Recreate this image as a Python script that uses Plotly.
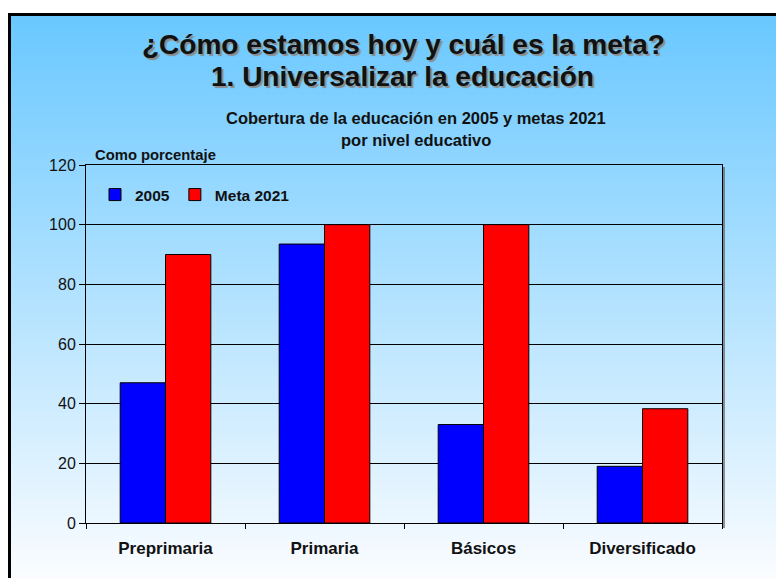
import plotly.graph_objects as go

categories = ["Preprimaria", "Primaria", "Básicos", "Diversificado"]
series_names = ["2005", "Meta 2021"]
values_2005 = [47, 93.5, 33, 19]
values_meta = [90, 100, 100, 38.3]
y_ticks = [0, 20, 40, 60, 80, 100, 120]

W, H = 776, 578
L, R, T, B = 86, 722, 165, 523  # plot area in px

def px_x(px):
    return (px - L) / (R - L)

def px_y(py):
    return (B - py) / (B - T)

FONT = "Liberation Sans, Arial"

fig = go.Figure()
fig.add_trace(go.Bar(name=series_names[0], x=categories, y=values_2005,
                     marker=dict(color="#0000ff", line=dict(color="black", width=1))))
fig.add_trace(go.Bar(name=series_names[1], x=categories, y=values_meta,
                     marker=dict(color="#ff0000", line=dict(color="black", width=1))))

shapes = []
# gradient background
top_px, bot_px = 15, H
n = 120
c0 = (106, 200, 255)
c1 = (250, 252, 255)
for i in range(n):
    f = i / (n - 1)
    c = tuple(round(c0[k] + (c1[k] - c0[k]) * f) for k in range(3))
    y0 = top_px + (bot_px - top_px) * i / n
    y1 = top_px + (bot_px - top_px) * (i + 1) / n + 0.8
    shapes.append(dict(type="rect", xref="paper", yref="paper", layer="below",
                       x0=px_x(10), x1=px_x(W + 2), y0=px_y(y1), y1=px_y(y0),
                       fillcolor="rgb(%d,%d,%d)" % c, line=dict(width=0)))
# frame border
shapes.append(dict(type="line", xref="paper", yref="paper", layer="above",
                   x0=px_x(9.5), x1=px_x(9.5), y0=px_y(H + 2), y1=px_y(13),
                   line=dict(color="black", width=3)))
shapes.append(dict(type="line", xref="paper", yref="paper", layer="above",
                   x0=px_x(8), x1=px_x(W + 2), y0=px_y(14.5), y1=px_y(14.5),
                   line=dict(color="black", width=3)))
# right border shadow of plot area
shapes.append(dict(type="line", xref="paper", yref="paper", layer="below",
                   x0=px_x(724), x1=px_x(724), y0=px_y(B + 5), y1=px_y(T + 2),
                   line=dict(color="rgba(80,80,80,0.6)", width=2)))

ann = []
title_font = dict(family=FONT, size=28, color="#111111",
                  shadow="2px 2px 1px #8a8a8a")
ann.append(dict(text="<b>¿Cómo estamos hoy y cuál es la meta?</b>", x=px_x(403), y=px_y(45),
                xref="paper", yref="paper", showarrow=False, font=title_font,
                xanchor="center", yanchor="middle"))
ann.append(dict(text="<b>1. Universalizar la educación</b>", x=px_x(402), y=px_y(76),
                xref="paper", yref="paper", showarrow=False, font=title_font,
                xanchor="center", yanchor="middle"))
sub_font = dict(family=FONT, size=16.5, color="#111111")
ann.append(dict(text="<b>Cobertura de la educación en 2005 y metas 2021</b>", x=px_x(416), y=px_y(118),
                xref="paper", yref="paper", showarrow=False, font=sub_font,
                xanchor="center", yanchor="middle"))
ann.append(dict(text="<b>por nivel educativo</b>", x=px_x(416), y=px_y(140),
                xref="paper", yref="paper", showarrow=False, font=sub_font,
                xanchor="center", yanchor="middle"))
ann.append(dict(text="<b>Como porcentaje</b>", x=px_x(93), y=px_y(155),
                xref="paper", yref="paper", showarrow=False,
                font=dict(family=FONT, size=14.8, color="#111111"),
                xanchor="left", yanchor="middle"))

fig.update_layout(
    width=W, height=H,
    margin=dict(l=L, r=W - R, t=T, b=H - B),
    paper_bgcolor="white",
    plot_bgcolor="rgba(0,0,0,0)",
    barmode="group",
    bargap=0.43,
    bargroupgap=0,
    shapes=shapes,
    annotations=ann,
    showlegend=True,
    legend=dict(orientation="h", x=px_x(95), y=px_y(178), xanchor="left", yanchor="top",
                bgcolor="rgba(0,0,0,0)",
                font=dict(family=FONT, size=15.5, color="#111111", weight="bold")),
    font=dict(family=FONT, color="#111111"),
)
fig.update_xaxes(showline=True, linecolor="black", linewidth=1, mirror=True,
                 ticks="outside", tickson="boundaries", ticklen=5, tickcolor="black",
                 ticklabelstandoff=10,
                 tickfont=dict(size=17, weight="bold"), showgrid=False)
fig.update_yaxes(range=[0, 120], tickvals=y_ticks, showline=True, linecolor="black",
                 linewidth=1, mirror=True, ticks="outside", ticklen=6, tickcolor="black",
                 tickfont=dict(size=16), showgrid=True, gridcolor="black", gridwidth=1,
                 zeroline=False)

fig.write_html("out.html", config={"displayModeBar": False},
               post_script="document.body.style.margin='0';")
